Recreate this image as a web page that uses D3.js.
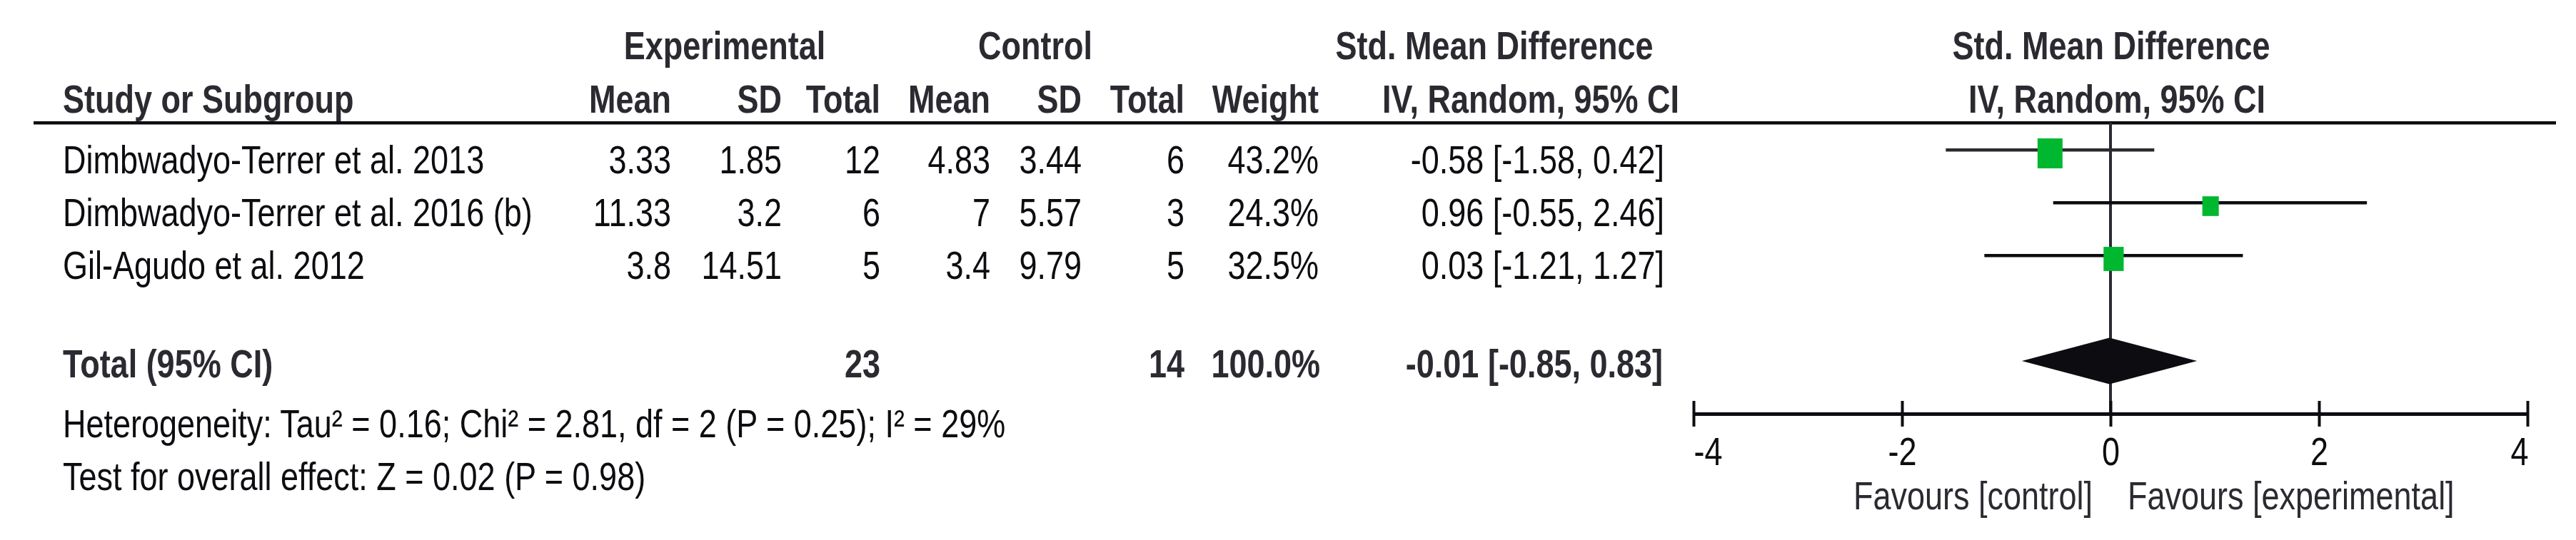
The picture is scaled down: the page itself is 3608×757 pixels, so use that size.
<!DOCTYPE html>
<html>
<head>
<meta charset="utf-8">
<script src="https://cdn.jsdelivr.net/npm/d3@7"></script>
<style>
  html, body { margin: 0; padding: 0; background: #ffffff; }
  svg { display: block; }
  text { font-family: "Liberation Sans", Arial, sans-serif; }
</style>
</head>
<body>
<svg id="chart" width="3608" height="757"></svg>
<script>
// ---------- data ----------
const studies   = ["Dimbwadyo-Terrer et al. 2013", "Dimbwadyo-Terrer et al. 2016 (b)", "Gil-Agudo et al. 2012"];
const expMean   = [3.33, 11.33, 3.8];
const expSD     = [1.85, 3.2, 14.51];
const expTotal  = [12, 6, 5];
const ctrlMean  = [4.83, 7, 3.4];
const ctrlSD    = [3.44, 5.57, 9.79];
const ctrlTotal = [6, 3, 5];
const weights   = [43.2, 24.3, 32.5];
const smd       = [-0.58, 0.96, 0.03];
const ciLow     = [-1.58, -0.55, -1.21];
const ciHigh    = [0.42, 2.46, 1.27];

const totalLabel   = "Total (95% CI)";
const totalExpN    = 23;
const totalCtrlN   = 14;
const totalWeight  = 100.0;
const totalSmd     = -0.01;
const totalLow     = -0.85;
const totalHigh    = 0.83;

const heterogeneityText = "Heterogeneity: Tau² = 0.16; Chi² = 2.81, df = 2 (P = 0.25); I² = 29%";
const overallText       = "Test for overall effect: Z = 0.02 (P = 0.98)";
const tickValues        = [-4, -2, 0, 2, 4];
const favoursLeft       = "Favours [control]";
const favoursRight      = "Favours [experimental]";

// ---------- layout ----------
const KY = 1.22;           // vertical stretch of the picture
const FS = 45;
const dark = "#2b2a31";
const black = "#0d0d11";
const green = "#00b730";

const svg = d3.select("#chart");
svg.append("rect").attr("width", 3608).attr("height", 757).attr("fill", "#fff");

function txt(x, y, s, opts = {}) {
  return svg.append("text")
    .attr("transform", `translate(${x},${y}) scale(1,${KY})`)
    .attr("text-anchor", opts.anchor || "start")
    .attr("font-size", opts.size || FS)
    .attr("font-weight", opts.bold ? "bold" : "normal")
    .attr("fill", opts.fill || black)
    .text(s);
}

const x = d3.scaleLinear().domain([-4, 4]).range([2372, 3540]);
const yRow = d3.scaleLinear().domain([0, 1]).range([210, 284]);   // CI line y for row index
const boxW = d3.scaleLinear().domain([0, 43.2]).range([7.6, 35]);

const fmt2 = d3.format(".2f");
const ciStr = (m, l, h) => `${fmt2(m)} [${fmt2(l)}, ${fmt2(h)}]`.replace(/−/g, "-");

// column right edges
const col = { expMean: 940, expSD: 1095, expTotal: 1233, ctrlMean: 1387, ctrlSD: 1515, ctrlTotal: 1659, weight: 1847, ci: 2331 };

// ---------- headers ----------
txt(1015, 83, "Experimental", { bold: true, anchor: "middle", fill: dark });
txt(1450, 83, "Control", { bold: true, anchor: "middle", fill: dark });
txt(2093, 83, "Std. Mean Difference", { bold: true, anchor: "middle", fill: dark });
txt(2957, 83, "Std. Mean Difference", { bold: true, anchor: "middle", fill: dark });

txt(88, 158, "Study or Subgroup", { bold: true, fill: dark });
txt(col.expMean, 158, "Mean", { bold: true, anchor: "end", fill: dark });
txt(col.expSD, 158, "SD", { bold: true, anchor: "end", fill: dark });
txt(col.expTotal, 158, "Total", { bold: true, anchor: "end", fill: dark });
txt(col.ctrlMean, 158, "Mean", { bold: true, anchor: "end", fill: dark });
txt(col.ctrlSD, 158, "SD", { bold: true, anchor: "end", fill: dark });
txt(col.ctrlTotal, 158, "Total", { bold: true, anchor: "end", fill: dark });
txt(col.weight, 158, "Weight", { bold: true, anchor: "end", fill: dark });
txt(2352, 158, "IV, Random, 95% CI", { bold: true, anchor: "end", fill: dark });
txt(2965, 158, "IV, Random, 95% CI", { bold: true, anchor: "middle", fill: dark });

svg.append("rect").attr("x", 47).attr("y", 170).attr("width", 3580 - 47).attr("height", 4.5).attr("fill", black);

// ---------- zero line ----------
svg.append("line")
  .attr("x1", x(0)).attr("x2", x(0)).attr("y1", 172).attr("y2", 580)
  .attr("stroke", dark).attr("stroke-width", 4);

// ---------- study rows ----------
studies.forEach((s, i) => {
  const yl = yRow(i);
  const yb = yl + 33;
  txt(88, yb, s);
  txt(col.expMean, yb, String(expMean[i]), { anchor: "end" });
  txt(col.expSD, yb, String(expSD[i]), { anchor: "end" });
  txt(col.expTotal, yb, String(expTotal[i]), { anchor: "end" });
  txt(col.ctrlMean, yb, String(ctrlMean[i]), { anchor: "end" });
  txt(col.ctrlSD, yb, String(ctrlSD[i]), { anchor: "end" });
  txt(col.ctrlTotal, yb, String(ctrlTotal[i]), { anchor: "end" });
  txt(col.weight, yb, weights[i].toFixed(1) + "%", { anchor: "end" });
  txt(col.ci, yb, ciStr(smd[i], ciLow[i], ciHigh[i]), { anchor: "end" });

  svg.append("rect")
    .attr("x", x(ciLow[i])).attr("y", yl - 2)
    .attr("width", x(ciHigh[i]) - x(ciLow[i])).attr("height", 4.5)
    .attr("fill", i === 0 ? dark : black);

  const w = boxW(weights[i]);
  const h = w * 1.2;
  svg.append("rect")
    .attr("x", x(smd[i]) - w / 2).attr("y", yl + 5 - h / 2)
    .attr("width", w).attr("height", h)
    .attr("fill", green);
});

// ---------- total row ----------
txt(88, 529, totalLabel, { bold: true, fill: dark });
txt(col.expTotal, 529, String(totalExpN), { bold: true, anchor: "end", fill: dark });
txt(col.ctrlTotal, 529, String(totalCtrlN), { bold: true, anchor: "end", fill: dark });
txt(1849, 529, totalWeight.toFixed(1) + "%", { bold: true, anchor: "end", fill: dark });
txt(2329, 529, ciStr(totalSmd, totalLow, totalHigh), { bold: true, anchor: "end", fill: dark });

const dy = 506, dh = 32.5;
svg.append("path")
  .attr("d", `M${x(totalLow)},${dy} L${x(totalSmd)},${dy - dh} L${x(totalHigh)},${dy} L${x(totalSmd)},${dy + dh} Z`)
  .attr("fill", black);

txt(88, 613, heterogeneityText);
txt(88, 687, overallText);

// ---------- axis ----------
svg.append("rect").attr("x", x(-4)).attr("y", 578).attr("width", x(4) - x(-4)).attr("height", 5).attr("fill", black);

const axis = d3.axisBottom(x).tickValues(tickValues).tickSizeInner(36).tickSizeOuter(0).tickFormat(d => String(d));
const ag = svg.append("g").attr("transform", "translate(0,562)").call(axis);
ag.select(".domain").remove();
ag.selectAll(".tick line").attr("stroke", black).attr("stroke-width", 4);
ag.selectAll(".tick text")
  .attr("y", null).attr("dy", null)
  .attr("transform", `translate(0,${652 - 562}) scale(1,${KY})`)
  .attr("font-size", FS)
  .attr("font-family", '"Liberation Sans", Arial, sans-serif')
  .attr("fill", black)
  .attr("text-anchor", (d, i, n) => i === 0 ? "start" : (i === n.length - 1 ? "end" : "middle"))
  .attr("x", (d, i, n) => i === 0 ? 0 : (i === n.length - 1 ? 1 : 0));

txt(x(0) - 25, 714, favoursLeft, { anchor: "end", fill: dark });
txt(x(0) + 24, 714, favoursRight, { anchor: "start", fill: dark });
</script>
</body>
</html>
